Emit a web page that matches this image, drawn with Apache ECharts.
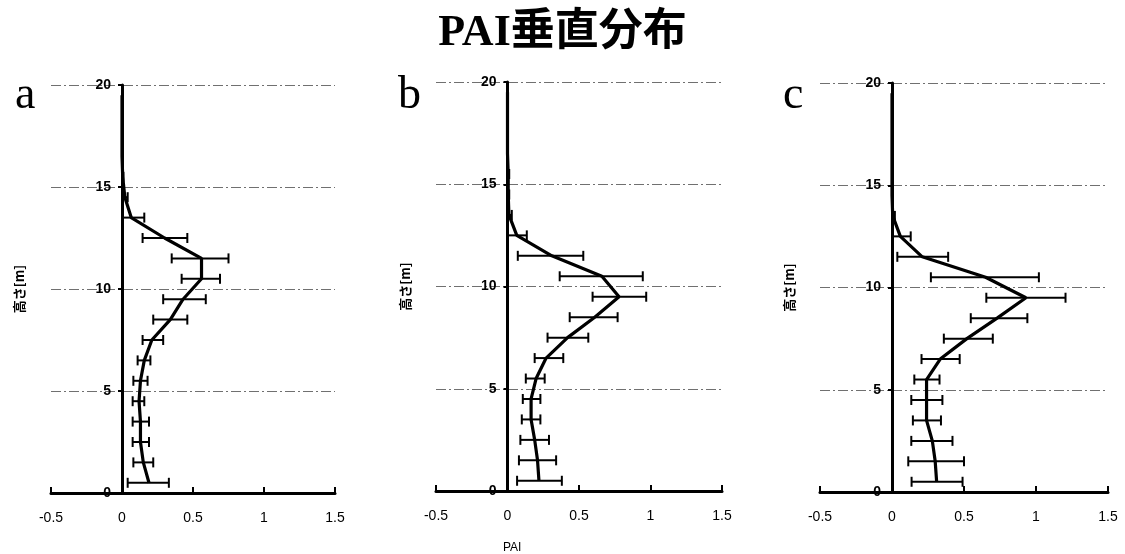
<!DOCTYPE html>
<html>
<head>
<meta charset="utf-8">
<script src="https://cdn.jsdelivr.net/npm/echarts@6/dist/echarts.min.js"></script>
<style>
html,body{margin:0;padding:0;background:#fff;}
#chart{width:1125px;height:554px;}
</style>
</head>
<body>
<div id="chart"></div>
<script>
// Heights (m) of each layer midpoint
const heights = [0.5,1.5,2.5,3.5,4.5,5.5,6.5,7.5,8.5,9.5,10.5,11.5,12.5,13.5,14.5,15.5,16.5,17.5,18.5,19.5];

// Panel a
const aMean = [0.19,0.15,0.13,0.13,0.12,0.13,0.157,0.21,0.34,0.43,0.56,0.56,0.30,0.065,0.02,0.005,0,0,0,0];
const aLow  = [0.04,0.08,0.075,0.075,0.075,0.08,0.11,0.145,0.22,0.29,0.42,0.35,0.145,0.0,0.0,0.0,null,null,null,null];
const aHigh = [0.33,0.22,0.19,0.19,0.157,0.18,0.20,0.29,0.46,0.59,0.69,0.75,0.46,0.157,0.04,0.01,null,null,null,null];

// Panel b
const bMean = [0.22,0.21,0.19,0.165,0.165,0.20,0.27,0.42,0.61,0.78,0.66,0.31,0.065,0.01,0.005,0.005,0,0,0,0];
const bLow  = [0.067,0.08,0.09,0.10,0.107,0.128,0.19,0.28,0.435,0.595,0.365,0.072,0.0,0.0,0.0,0.0,null,null,null,null];
const bHigh = [0.38,0.34,0.29,0.23,0.23,0.26,0.39,0.565,0.77,0.97,0.946,0.53,0.135,0.03,0.012,0.012,null,null,null,null];

// Panel c
const cMean = [0.31,0.30,0.28,0.24,0.24,0.24,0.335,0.52,0.73,0.93,0.65,0.21,0.058,0.005,0,0,0,0,0,0];
const cLow  = [0.136,0.113,0.134,0.145,0.134,0.155,0.205,0.36,0.547,0.655,0.27,0.037,0.0,0.0,null,null,null,null,null,null];
const cHigh = [0.49,0.50,0.42,0.34,0.35,0.33,0.47,0.70,0.94,1.205,1.02,0.39,0.13,0.02,null,null,null,null,null,null];

const xTicks = [-0.5, 0, 0.5, 1, 1.5];
const yTicks = [0, 5, 10, 15, 20];
const panelLetters = ['a','b','c'];
const titleText = 'PAI垂直分布';
const yName = '高さ[m]';
const xName = 'PAI';

const panels = [
  {mean:aMean, low:aLow, high:aHigh},
  {mean:bMean, low:bLow, high:bHigh},
  {mean:cMean, low:cLow, high:cHigh}
];
const gridPos = [
  {left:51, top:85, width:284, height:408},
  {left:436, top:82, width:286, height:409},
  {left:820, top:83, width:288, height:409}
];

const chart = echarts.init(document.getElementById('chart'), null, {renderer:'canvas'});

const xMin = xTicks[0], xMax = xTicks[xTicks.length-1];
const grids = [], xAxes = [], yAxes = [], series = [];
panels.forEach((p, i) => {
  const g = gridPos[i];
  grids.push(Object.assign({containLabel:false, outerBoundsMode:'none'}, g));
  // shift the y axis from the grid's left edge to x = 0
  const zeroShift = g.width * (0 - xMin) / (xMax - xMin);
  xAxes.push({
    type:'value', gridIndex:i, min:xMin, max:xMax, interval:0.5,
    axisLine:{show:true, onZero:true, lineStyle:{color:'#000', width:3}},
    axisTick:{show:true, inside:true, length:6, lineStyle:{color:'#000', width:2}},
    axisLabel:{show:true, margin:18, color:'#000', fontSize:14, fontFamily:'Liberation Sans, Arial, sans-serif',
      formatter:v => String(v)},
    splitLine:{show:false}
  });
  yAxes.push({
    type:'value', gridIndex:i, min:yTicks[0], max:yTicks[yTicks.length-1], interval:5,
    position:'left', offset:-zeroShift,
    axisLine:{show:true, onZero:false, lineStyle:{color:'#000', width:3}},
    axisTick:{show:true, length:4, lineStyle:{color:'#000', width:2}},
    axisLabel:{show:true, margin:11, color:'#000', fontSize:14, fontWeight:'bold', fontFamily:'Liberation Sans Narrow, Liberation Sans, Arial, sans-serif'},
    splitLine:{show:true, lineStyle:{color:'#707070', width:1, type:[10,3,2,3]}},
    name:yName, nameLocation:'middle', nameRotate:90, nameGap:96,
    nameTextStyle:{color:'#000', fontSize:13, fontWeight:'bold', fontFamily:'Noto Sans CJK JP, sans-serif'}
  });
  const errData = [];
  heights.forEach((h, k) => {
    if (p.low[k] !== null && p.high[k] !== null) errData.push([p.low[k], p.high[k], h]);
  });
  series.push({
    type:'custom', xAxisIndex:i, yAxisIndex:i, data:errData, silent:true, z:3,
    renderItem:(params, api) => {
      const lo = api.coord([api.value(0), api.value(2)]);
      const hi = api.coord([api.value(1), api.value(2)]);
      const cap = 5;
      const st = {stroke:'#000', lineWidth:2};
      return {type:'group', children:[
        {type:'line', shape:{x1:lo[0], y1:lo[1], x2:hi[0], y2:hi[1]}, style:st},
        {type:'line', shape:{x1:lo[0], y1:lo[1]-cap, x2:lo[0], y2:lo[1]+cap}, style:st},
        {type:'line', shape:{x1:hi[0], y1:hi[1]-cap, x2:hi[0], y2:hi[1]+cap}, style:st}
      ]};
    }
  });
  series.push({
    type:'line', xAxisIndex:i, yAxisIndex:i, z:4,
    data:heights.map((h, k) => [p.mean[k], h]),
    showSymbol:false, symbol:'none', smooth:false,
    lineStyle:{color:'#000', width:3.2}
  });
});

const titles = [
  {text:titleText, left:'center', top:7, textStyle:{fontSize:44, fontWeight:'bold', color:'#000',
    fontFamily:'Liberation Serif, Noto Sans CJK JP, serif'}}
];
const letterLeft = [10, 393, 778];
panelLetters.forEach((t, i) => {
  titles.push({text:t, left:letterLeft[i], top:68, textStyle:{fontSize:46, fontWeight:'normal', color:'#000',
    fontFamily:'Liberation Serif, serif'}});
});
titles.push({text:xName, left:498, top:537, textStyle:{fontSize:12, fontWeight:'normal', color:'#000',
  fontFamily:'Liberation Sans, Arial, sans-serif'}});

chart.setOption({
  backgroundColor:'#fff',
  animation:false,
  title:titles,
  grid:grids, xAxis:xAxes, yAxis:yAxes, series:series
});
</script>
</body>
</html>
